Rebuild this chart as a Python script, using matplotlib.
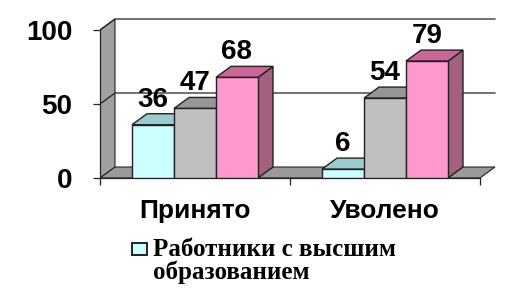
import matplotlib
matplotlib.use("Agg")
import matplotlib.pyplot as plt
from matplotlib.patches import Polygon

categories = ["Принято", "Уволено"]
series_names = ["Работники с высшим образованием", "Серия 2", "Серия 3"]
values_s1 = [36, 6]
values_s2 = [47, 54]
values_s3 = [68, 79]
y_ticks = [0, 50, 100]

front_colors = ["#ccffff", "#c0c0c0", "#ff99cc"]
top_colors = ["#99cccc", "#969696", "#cc6699"]
side_colors = ["#88bbbb", "#868686", "#a6607f"]

W, H = 522, 301
fig = plt.figure(figsize=(W / 100, H / 100), dpi=100)
# axes: x 0..2 -> px 100..480 ; y 0..100 -> px 178..30
px_per_x = 190.0
px_per_y = 1.48
xmax, ymax = 2.1, 112
ax = fig.add_axes([100 / W, (H - 178) / H, xmax * px_per_x / W, ymax * px_per_y / H])
ax.set_xlim(0, xmax)
ax.set_ylim(0, ymax)

dx = 15 / px_per_x
dy = 11 / px_per_y
wall_gray = "#a0a0a0"
edge = "#222222"

# back wall
ax.add_patch(Polygon([(dx, dy), (2 + dx, dy), (2 + dx, 100 + dy), (dx, 100 + dy)],
                     closed=True, facecolor="white", edgecolor="none", zorder=0))
# left wall
ax.add_patch(Polygon([(0, 0), (dx, dy), (dx, 100 + dy), (0, 100)],
                     closed=True, facecolor=wall_gray, edgecolor=edge, lw=0.8, zorder=1))
# floor
ax.add_patch(Polygon([(0, 0), (2, 0), (2 + dx, dy), (dx, dy)],
                     closed=True, facecolor="#9a9a9a", edgecolor=edge, lw=0.8, zorder=1))
# gridlines
for t in y_ticks[1:]:
    ax.plot([0, dx, 2 + dx], [t, t + dy, t + dy], color=edge, lw=0.9, zorder=1)

series = [values_s1, values_s2, values_s3]
bw = 0.221
x_centers = [0.5, 1.5]
for ci, xc in enumerate(x_centers):
    for si, vals in enumerate(series):
        v = vals[ci]
        x0 = xc + (si - 1.5) * bw
        x1 = x0 + bw
        z = 3 + si
        ax.add_patch(Polygon([(x1, 0), (x1 + dx, dy), (x1 + dx, v + dy), (x1, v)],
                             closed=True, facecolor=side_colors[si], edgecolor=edge, lw=1.0, zorder=z))
        ax.add_patch(Polygon([(x0, v), (x1, v), (x1 + dx, v + dy), (x0 + dx, v + dy)],
                             closed=True, facecolor=top_colors[si], edgecolor=edge, lw=1.0, zorder=z))
        ax.bar(x0, v, width=bw, align="edge", color=front_colors[si], edgecolor=edge,
               linewidth=1.0, zorder=z + 0.1)
        ax.text(x0 + bw / 2, v + dy + 0.8, str(v), ha="center", va="bottom",
                fontsize=20, fontweight="bold", family="Liberation Sans", zorder=10)

for s in ["top", "right"]:
    ax.spines[s].set_visible(False)
ax.spines["left"].set_bounds(0, 100)
ax.spines["bottom"].set_bounds(0, 2)
for s in ["left", "bottom"]:
    ax.spines[s].set_color(edge)
    ax.spines[s].set_linewidth(0.9)
    ax.spines[s].set_zorder(2)

ax.set_yticks(y_ticks)
ax.set_yticklabels([str(t) for t in y_ticks], fontsize=20, fontweight="bold",
                   family="Liberation Sans")
ax.tick_params(axis="y", length=5, width=0.9, pad=15, color=edge)
ax.set_xticks(x_centers)
ax.set_xticklabels(categories, fontsize=19, fontweight="bold", family="Liberation Sans")
ax.set_xticks([0, 1, 2], minor=True)
ax.tick_params(axis="x", which="major", length=0, pad=15)
ax.tick_params(axis="x", which="minor", length=5, width=0.9, color=edge)

# legend (only the first series is shown)
fig.patches.append(Polygon([(132 / W, 1 - 243 / H), (147 / W, 1 - 243 / H),
                            (147 / W, 1 - 255 / H), (132 / W, 1 - 255 / H)],
                           closed=True, transform=fig.transFigure,
                           facecolor=front_colors[0], edgecolor=edge, lw=1.4))
fig.text(153 / W, 1 - 249 / H, "Работники с высшим", fontsize=18, fontweight="bold",
         family="Liberation Serif", va="center", ha="left")
fig.text(153 / W, 1 - 272 / H, "образованием", fontsize=18, fontweight="bold",
         family="Liberation Serif", va="center", ha="left")

fig.savefig("out.png", dpi=100)
